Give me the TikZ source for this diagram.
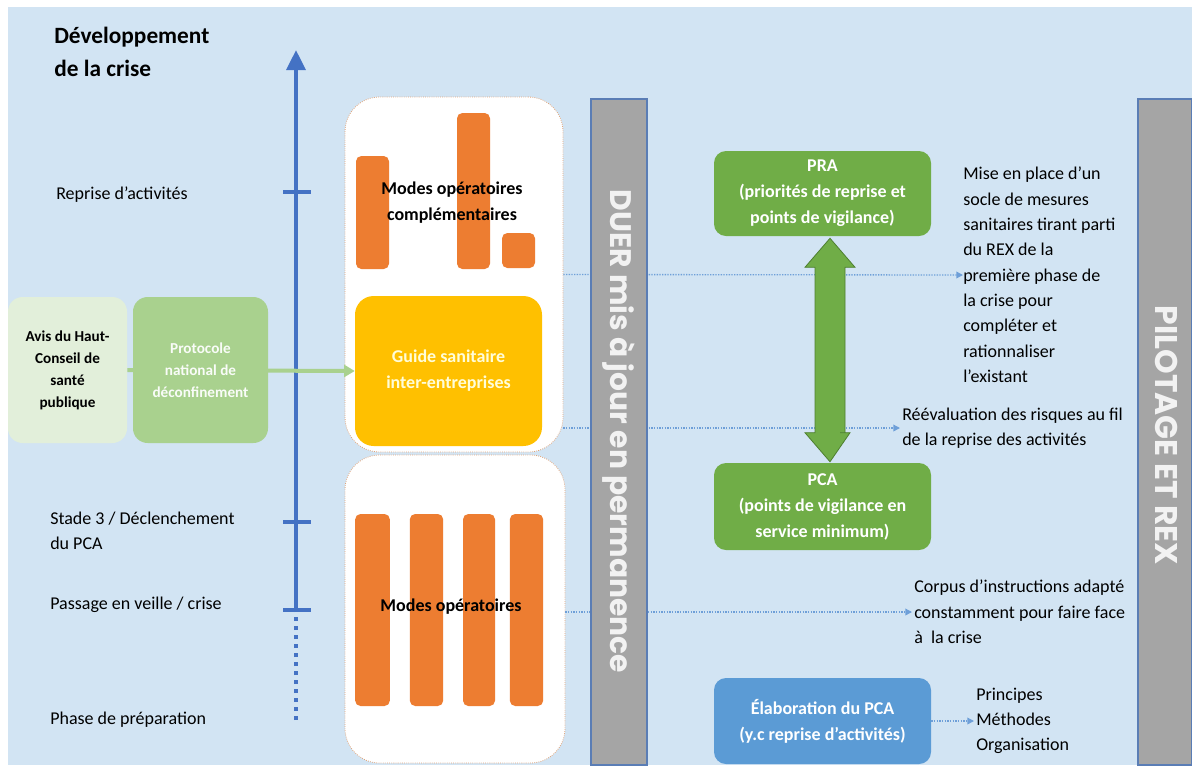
\documentclass[tikz,border=0pt]{standalone}
\usepackage{fontspec}
\setmainfont{Carlito}
\newfontfamily\geofont{Poppins}
\usetikzlibrary{arrows.meta,calc}
\definecolor{bgblue}{HTML}{D2E4F3}
\definecolor{axisblue}{HTML}{4472C4}
\definecolor{dotblue}{HTML}{6E9FD8}
\definecolor{orangebar}{HTML}{ED7D31}
\definecolor{yellowbox}{HTML}{FFC000}
\definecolor{greenbox}{HTML}{70AD47}
\definecolor{greendark}{HTML}{4E7F30}
\definecolor{lightgreen}{HTML}{E2EFDA}
\definecolor{midgreen}{HTML}{A9D18E}
\definecolor{bluebox}{HTML}{5B9BD5}
\definecolor{graybar}{HTML}{A5A5A5}
\definecolor{barline}{HTML}{5A7DB5}
\definecolor{contline}{HTML}{E0A47A}
\tikzset{
  x=0.75pt, y=-0.75pt,
  box/.style={inner sep=0pt, align=center, font=\bfseries\fontsize{13.5pt}{19.5pt}\selectfont},
  container/.style={fill=white, draw=contline, densely dotted, line width=0.6pt, rounded corners=26pt, inner sep=0pt},
  bar/.style={fill=orangebar, rounded corners=4pt, inner sep=0pt},
  lbl/.style={inner sep=0pt, anchor=west, align=left, font=\fontsize{13.5pt}{19pt}\selectfont},
  link/.style={dotblue, densely dotted, line width=1pt, -{Triangle[length=5pt,width=5pt]}},
  sidebar/.style={fill=graybar, draw=barline, line width=0.8pt, inner sep=0pt},
}
\begin{document}
\begin{tikzpicture}
\useasboundingbox (0,0) rectangle (1192,765);
\fill[bgblue] (8,7) rectangle (1192,765);

% title and axis labels
\node[inner sep=0pt, anchor=north west, align=left, font=\bfseries\fontsize{17.5pt}{24.75pt}\selectfont] (title) at (54,27) {Développement\\de la crise};
\node[lbl] (l1) at (56,195) {Reprise d’activités};
\node[lbl] (l2) at (50,531) {Stade 3 / Déclenchement\\du PCA};
\node[lbl] (l3) at (50,605) {Passage en veille / crise};
\node[lbl] (l4) at (50,720) {Phase de préparation};

% axis
\coordinate (ax0) at (296,720);
\coordinate (ax1) at (296,612);
\coordinate (ax2) at (296,50);
\draw[axisblue, line width=3pt, dash pattern=on 3pt off 3.75pt] (ax0) -- (ax1);
\draw[axisblue, line width=3pt, -{Triangle[length=15pt,width=14pt]}] (ax1) -- (ax2);
\foreach \yy/\nm in {192/t1,522/t2,610/t3}{
  \coordinate (\nm a) at (283,\yy);
  \coordinate (\nm b) at (311,\yy);
  \draw[axisblue, line width=2.6pt] (\nm a) -- (\nm b);
}

% containers
\node[container, minimum width=163.5pt, minimum height=266.25pt] (cont1) at (454,274.5) {};
\node[container, minimum width=165pt, minimum height=231pt] (cont2) at (455,609) {};

% orange bars (top)
\node[bar, minimum width=24.75pt, minimum height=84.75pt] (b1) at (372.5,212.5) {};
\node[bar, minimum width=24.75pt, minimum height=117pt] (b2) at (473.5,191) {};
\node[bar, minimum width=24.75pt, minimum height=26.25pt] (b3) at (518.5,250.5) {};
\node[box, font=\bfseries\fontsize{13.5pt}{19pt}\selectfont] (mc) at (452,202.5) {Modes opératoires\\complémentaires};

% orange bars (bottom)
\node[bar, minimum width=26pt, minimum height=144pt] (c1) at (372.5,610) {};
\node[bar, minimum width=25pt, minimum height=144pt] (c2) at (426.5,610) {};
\node[bar, minimum width=24pt, minimum height=144pt] (c3) at (479,610) {};
\node[bar, minimum width=25pt, minimum height=144pt] (c4) at (526.5,610) {};
\node[box] (mo) at (451,607) {Modes opératoires};

% guide
\node[box, fill=yellowbox, rounded corners=14pt, minimum width=140.25pt, minimum height=112.5pt, text=yellow!15] (guide) at (448.5,371) {Guide sanitaire\\inter-entreprises};

% left boxes
\node[box, fill=lightgreen, rounded corners=11pt, minimum width=89.25pt, minimum height=109.5pt, font=\bfseries\fontsize{11.4pt}{16.5pt}\selectfont] (avis) at (67.5,370) {Avis du Haut-\\Conseil de\\santé\\publique};
\draw[midgreen, line width=3pt, -{Triangle[length=8pt,width=9pt]}] (avis.east) -- (guide.west);
\node[box, fill=midgreen, rounded corners=11pt, minimum width=101.25pt, minimum height=109.5pt, text=white!80!lightgreen, font=\bfseries\fontsize{11.4pt}{16.5pt}\selectfont] (proto) at (200.5,370) {Protocole\\national de\\déconfinement};

% right texts
\node[lbl] (mise) at (963,275) {Mise en place d’un\\socle de mesures\\sanitaires tirant parti\\du REX de la\\première phase de\\la crise pour\\compléter et\\rationnaliser\\l’existant};
\node[lbl] (reev) at (902,428) {Réévaluation des risques au fil\\de la reprise des activités};
\node[lbl] (corpus) at (914,612) {Corpus d’instructions adapté\\constamment pour faire face\\à\ \ la crise};
\node[lbl] (princ) at (976,721) {Principes\\Méthodes\\Organisation};

% green boxes
\node[box, fill=greenbox, text=white, rounded corners=9pt, minimum width=162.75pt, minimum height=63.75pt] (pra) at (822.5,193.5) {PRA\\(priorités de reprise et\\points de vigilance)};
\node[box, fill=greenbox, text=white, rounded corners=9pt, minimum width=162.75pt, minimum height=65.25pt] (pca) at (822.5,506.5) {PCA\\(points de vigilance en\\service minimum)};
\node[box, fill=bluebox, text=white, rounded corners=9pt, minimum width=162.75pt, minimum height=64.5pt] (elab) at (822.5,721) {Élaboration du PCA\\(y.c reprise d’activités)};

% dotted links
\draw[link] (cont1.east) -- (mise.west);
\draw[link] (cont1.east |- reev.west) -- ([xshift=-1.5pt]reev.west);
\draw[link] (cont2.east |- corpus.west) -- ([xshift=-1.5pt]corpus.west);
\draw[link] (elab.east) -- ([xshift=-1.5pt]princ.west);

% double arrow PRA <-> PCA
\coordinate (dtop) at ($(pra.south)+(7.5,2)$);
\coordinate (dbot) at ($(pca.north)+(7.5,-1)$);
\fill[greenbox, draw=greendark, line width=0.6pt]
  (dtop) -- ++(25,29) -- ++(-10,0) |- ($(dbot)+(10,-29)$) -- ++(10,0) -- (dbot)
  -- ++(-25,-29) -- ++(10,0) |- ($(dtop)+(-15,29)$) -- ++(-10,0) -- cycle;

% side bars
\node[sidebar, minimum width=42pt, minimum height=499.5pt] (duer) at (619,432) {};
\node[rotate=-90, text=white!90!gray, font=\geofont\bfseries\fontsize{22.3pt}{22.3pt}\selectfont, inner sep=0pt] (duert) at (619,431.5) {DUER mis à jour en permanence};
\node[sidebar, minimum width=40.5pt, minimum height=499.5pt] (pilot) at (1165,432) {};
\node[rotate=-90, text=white!90!gray, font=\geofont\bfseries\fontsize{23.5pt}{23.5pt}\selectfont, inner sep=0pt] (pilott) at (1167,435.5) {PILOTAGE ET REX};
\end{tikzpicture}
\end{document}
